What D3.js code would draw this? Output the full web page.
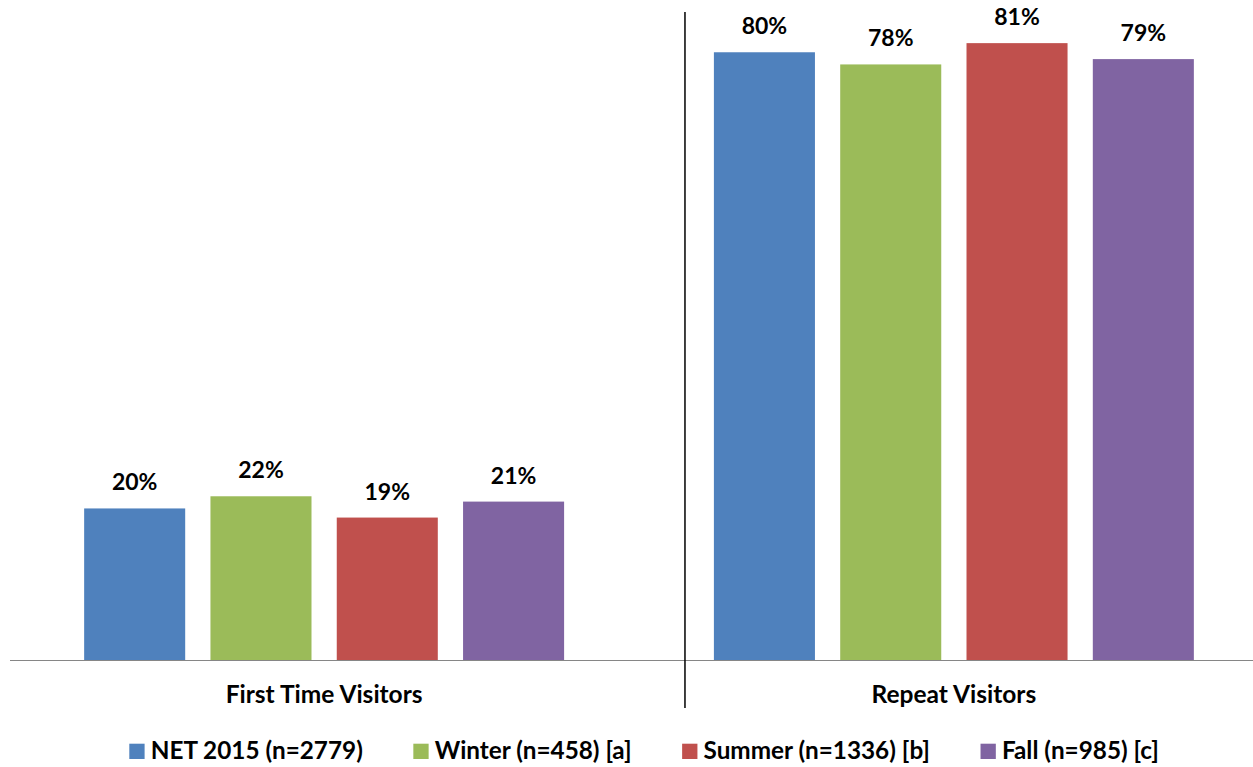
<!DOCTYPE html>
<html>
<head>
<meta charset="utf-8">
<script src="https://cdn.jsdelivr.net/npm/d3@7"></script>
<style>
  html, body { margin: 0; padding: 0; background: #fff; }
  svg { display: block; }
  text { font-family: Lato, "Open Sans", sans-serif; font-weight: bold; fill: #000; }
</style>
</head>
<body>
<svg id="chart" width="1253" height="767"></svg>
<script>
const categories = ["First Time Visitors", "Repeat Visitors"];
const seriesNames = ["NET 2015 (n=2779)", "Winter (n=458) [a]", "Summer (n=1336) [b]", "Fall (n=985) [c]"];
const seriesColors = ["#4F81BD", "#9BBB59", "#C0504D", "#8064A2"];
const net2015 = [0.200, 0.800];
const winter = [0.216, 0.784];
const summer = [0.188, 0.812];
const fall = [0.209, 0.791];
const seriesValues = [net2015, winter, summer, fall];

const W = 1253, H = 767;
const svg = d3.select("#chart");

const baseY = 660.5;
const y = d3.scaleLinear().domain([0, 1]).range([baseY, baseY - 760.3]);

const x0 = d3.scaleBand().domain(categories).range([9.25, 1268.75]).padding(0);
const x1 = d3.scaleBand().domain(seriesNames).range([0, x0.bandwidth()])
  .paddingInner(0.2).paddingOuter(0.593);

const fmt = d3.format(".0%");

const data = [];
categories.forEach((c, ci) => {
  seriesNames.forEach((s, si) => {
    data.push({ cat: c, series: s, color: seriesColors[si], value: seriesValues[si][ci] });
  });
});

const g = svg.append("g");

g.selectAll("rect.bar").data(data).enter().append("rect")
  .attr("class", "bar")
  .attr("x", d => x0(d.cat) + x1(d.series))
  .attr("width", x1.bandwidth())
  .attr("y", d => y(d.value))
  .attr("height", d => y(0) - y(d.value))
  .attr("fill", d => d.color);

g.selectAll("text.val").data(data).enter().append("text")
  .attr("class", "val")
  .attr("x", d => x0(d.cat) + x1(d.series) + x1.bandwidth() / 2)
  .attr("y", d => y(d.value) - 18)
  .attr("text-anchor", "middle")
  .style("font-size", "23px")
  .text(d => fmt(d.value));

// baseline axis
svg.append("line")
  .attr("x1", 10).attr("x2", W)
  .attr("y1", baseY).attr("y2", baseY)
  .attr("stroke", "#868686").attr("stroke-width", 1.2);

// divider between groups
const divX = x0(categories[1]) + 0.073 * x0.bandwidth();
svg.append("line")
  .attr("x1", divX).attr("x2", divX)
  .attr("y1", 12).attr("y2", 708)
  .attr("stroke", "#000").attr("stroke-width", 1.5);

// category labels
svg.selectAll("text.cat").data(categories).enter().append("text")
  .attr("class", "cat")
  .attr("x", d => x0(d) + x1(seriesNames[0]) + (x1(seriesNames[3]) + x1.bandwidth() - x1(seriesNames[0])) / 2)
  .attr("y", 703)
  .attr("text-anchor", "middle")
  .style("font-size", "24.5px")
  .text(d => d);

// legend
const legend = svg.append("g");
const items = legend.selectAll("g.item").data(seriesNames).enter().append("g").attr("class", "item");
items.append("rect").attr("width", 15.3).attr("height", 15.3).attr("y", -15.3)
  .attr("fill", (d, i) => seriesColors[i]);
items.append("text").attr("x", 21.4).attr("y", 0)
  .style("font-size", "24.3px")
  .text(d => d);
const widths = [];
items.each(function () {
  widths.push(this.querySelector("text").getComputedTextLength() + 21.4);
});
const legLeft = 129.3, legRight = 1159;
const gap = (legRight - legLeft - d3.sum(widths)) / (widths.length - 1);
let cx = legLeft;
items.attr("transform", (d, i) => {
  const t = `translate(${cx},759)`;
  cx += widths[i] + gap;
  return t;
});
</script>
</body>
</html>
